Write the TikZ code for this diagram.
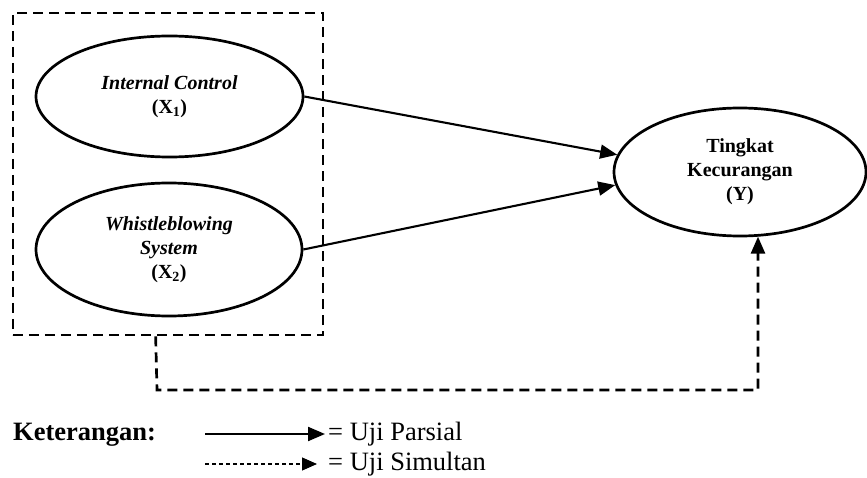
\documentclass[tikz,border=0pt]{standalone}
\usepackage{fontspec}
\setmainfont{Liberation Serif}
\usetikzlibrary{shapes.geometric,arrows.meta}
\begin{document}
\begin{tikzpicture}[x=1bp,y=-1bp,
  var/.style={draw,ellipse,line width=2.7bp,inner sep=0pt,align=center,
    font=\fontsize{20bp}{24bp}\selectfont\bfseries},
  solidarrow/.style={line width=2.1bp,-{Triangle[length=17bp,width=14bp]}},
  boxdash/.style={line width=2.7bp,dash pattern=on 10bp off 6bp},
  legfont/.style={font=\fontsize{26.5bp}{30bp}\selectfont}]
\useasboundingbox (0,0) rectangle (867,478);
\node[draw,boxdash,minimum width=310bp,minimum height=322bp,inner sep=0pt] (box) at (168,174) {};
\node[var,minimum width=267bp,minimum height=121bp] (x1) at (169.5,96.5)
  {\itshape Internal Control\\(X\textsubscript{1})};
\node[var,minimum width=266bp,minimum height=133bp] (x2) at (169,249.5)
  {\itshape Whistleblowing\\\itshape System\\(X\textsubscript{2})};
\node[var,minimum width=252bp,minimum height=128bp] (y) at (740,172)
  {Tingkat\\Kecurangan\\(Y)};
\draw[solidarrow] (x1.east) -- (y.172);
\draw[solidarrow] (x2.east) -- (y.186);
\coordinate (c1) at (157,390);
\coordinate (c2) at (758,390);
\draw[boxdash,-{Triangle[length=17bp,width=14bp]}] ([xshift=144bp]box.south west) -- (c1) -- (c2) -- (c2 |- y.-74);
\node[anchor=west,inner sep=0pt,font=\fontsize{26.5bp}{30bp}\selectfont\bfseries] (ket) at (13,435) {Keterangan:};
\coordinate (l1) at (205,434);
\coordinate (l2) at (205,464);
\node[legfont,anchor=west,inner sep=3bp] (t1) at (325,434) {= Uji Parsial};
\node[legfont,anchor=west,inner sep=3bp] (t2) at (325,464) {= Uji Simultan};
\draw[solidarrow] (l1) -- (t1.west);
\draw[line width=1.1bp,dash pattern=on 4bp off 3bp,-{Triangle[length=15bp,width=13bp]}] (l2) -- ([xshift=-8bp]t2.west);
\end{tikzpicture}
\end{document}
